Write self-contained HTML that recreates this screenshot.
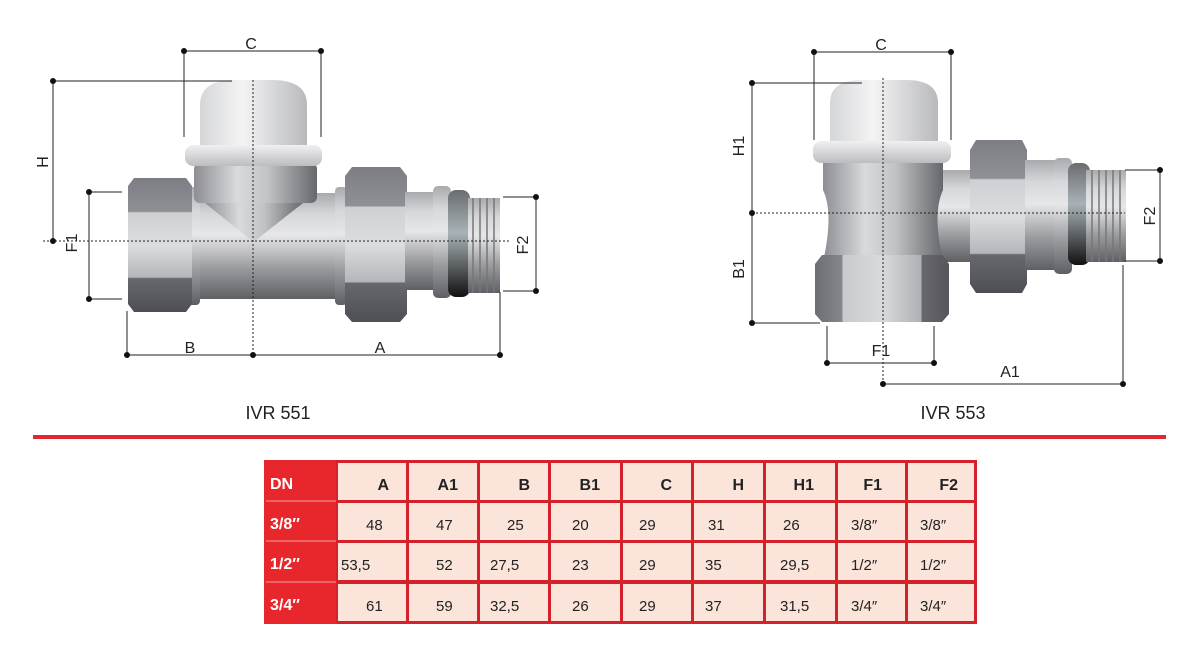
<!DOCTYPE html>
<html><head><meta charset="utf-8">
<style>
html,body{margin:0;padding:0;background:#fff;}
body{width:1200px;height:659px;position:relative;overflow:hidden;font-family:"Liberation Sans",sans-serif;}
svg{position:absolute;left:0;top:0;}
</style></head><body>
<svg width="1200" height="659" viewBox="0 0 1200 659" xmlns="http://www.w3.org/2000/svg">
<defs>
<linearGradient id="pipe" x1="0" y1="0" x2="0" y2="1">
<stop offset="0" stop-color="#a9aaae"/><stop offset="0.2" stop-color="#d6d7da"/><stop offset="0.4" stop-color="#e6e7e9"/><stop offset="0.7" stop-color="#9c9da1"/><stop offset="1" stop-color="#5e5f64"/></linearGradient>
<linearGradient id="hex" x1="0" y1="0" x2="0" y2="1">
<stop offset="0" stop-color="#7d7e83"/><stop offset="0.25" stop-color="#8f9095"/><stop offset="0.26" stop-color="#cfd0d3"/><stop offset="0.5" stop-color="#dcdde0"/><stop offset="0.74" stop-color="#b5b6ba"/><stop offset="0.75" stop-color="#67686d"/><stop offset="1" stop-color="#4e4f54"/></linearGradient>
<linearGradient id="vpipe" x1="0" y1="0" x2="1" y2="0">
<stop offset="0" stop-color="#8d8e93"/><stop offset="0.35" stop-color="#d9dadd"/><stop offset="0.6" stop-color="#c2c3c6"/><stop offset="1" stop-color="#66676c"/></linearGradient>
<linearGradient id="vhex" x1="0" y1="0" x2="1" y2="0">
<stop offset="0" stop-color="#6d6e73"/><stop offset="0.2" stop-color="#85868b"/><stop offset="0.21" stop-color="#c9cacd"/><stop offset="0.5" stop-color="#d9dadd"/><stop offset="0.79" stop-color="#b0b1b5"/><stop offset="0.8" stop-color="#67686d"/><stop offset="1" stop-color="#55565b"/></linearGradient>
<linearGradient id="dome" x1="0" y1="0" x2="1" y2="0">
<stop offset="0" stop-color="#d5d6d8"/><stop offset="0.4" stop-color="#f4f4f5"/><stop offset="1" stop-color="#b8b9bc"/></linearGradient>
<linearGradient id="ring" x1="0" y1="0" x2="0" y2="1">
<stop offset="0" stop-color="#f0f0f1"/><stop offset="1" stop-color="#bcbdc0"/></linearGradient>
<linearGradient id="dark" x1="0" y1="0" x2="0" y2="1">
<stop offset="0" stop-color="#6a6c70"/><stop offset="0.4" stop-color="#a8b2b6"/><stop offset="1" stop-color="#111"/></linearGradient>
</defs>

<!-- LEFT VALVE -->
<g>
<rect x="188" y="193" width="160" height="106" fill="url(#pipe)"/>
<rect x="188" y="187" width="12" height="118" rx="4" fill="url(#pipe)"/>
<rect x="335" y="187" width="12" height="118" rx="4" fill="url(#pipe)"/>
<path d="M134 178 H186 L192 186 V304 L186 312 H134 L128 304 V186 Z" fill="url(#hex)"/>
<rect x="194" y="163" width="123" height="40" rx="6" fill="url(#vpipe)"/>
<path d="M205 203 H303 L256 240 H251 Z" fill="url(#vpipe)"/>
<rect x="185" y="145" width="137" height="21" rx="8" fill="url(#ring)"/>
<path d="M200 145 V105 Q200 80 235 80 H272 Q307 80 307 105 V145 Z" fill="url(#dome)"/>
<path d="M352 167 H400 L407 176 V314 L400 322 H352 L345 314 V176 Z" fill="url(#hex)"/>
<rect x="405" y="192" width="32" height="98" fill="url(#pipe)"/>
<rect x="433" y="186" width="18" height="112" rx="5" fill="url(#pipe)"/>
<rect x="448" y="190" width="22" height="107" rx="8" fill="url(#dark)"/>
<rect x="468" y="198" width="32" height="95" fill="url(#pipe)"/>
<g stroke="#777" stroke-width="1.5"><line x1="473" y1="198" x2="473" y2="293"/><line x1="480" y1="198" x2="480" y2="293"/><line x1="487" y1="198" x2="487" y2="293"/><line x1="494" y1="198" x2="494" y2="293"/></g>
</g>

<!-- RIGHT VALVE -->
<g>
<path d="M918 170 H975 V262 H935 Q912 262 910 232 Q908 190 918 170 Z" fill="url(#pipe)"/>
<path d="M823 163 H943 V190 Q932 213 943 262 V270 H823 V262 Q834 213 823 190 Z" fill="url(#vpipe)"/>
<path d="M822 255 H942 L949 264 V314 L942 322 H822 L815 314 V264 Z" fill="url(#vhex)"/>
<rect x="813" y="141" width="138" height="22" rx="8" fill="url(#ring)"/>
<path d="M830 141 V103 Q830 80 862 80 H906 Q938 80 938 103 V141 Z" fill="url(#dome)"/>
<path d="M976 140 H1022 L1027 150 V284 L1022 293 H976 L970 284 V150 Z" fill="url(#hex)"/>
<rect x="1025" y="160" width="32" height="110" fill="url(#pipe)"/>
<rect x="1054" y="158" width="18" height="116" rx="5" fill="url(#pipe)"/>
<rect x="1068" y="163" width="22" height="102" rx="8" fill="url(#dark)"/>
<rect x="1086" y="170" width="40" height="92" fill="url(#pipe)"/>
<g stroke="#777" stroke-width="1.5"><line x1="1092" y1="170" x2="1092" y2="262"/><line x1="1099" y1="170" x2="1099" y2="262"/><line x1="1106" y1="170" x2="1106" y2="262"/><line x1="1113" y1="170" x2="1113" y2="262"/><line x1="1120" y1="170" x2="1120" y2="262"/></g>
</g>

<!-- DIMENSIONS -->
<g stroke="#222" stroke-width="1" fill="none">
<line x1="184" y1="51" x2="321" y2="51"/><line x1="184" y1="51" x2="184" y2="137"/><line x1="321" y1="51" x2="321" y2="137"/>
<line x1="53" y1="81" x2="232" y2="81"/><line x1="53" y1="81" x2="53" y2="241"/>
<line x1="89" y1="192" x2="122" y2="192"/><line x1="89" y1="299" x2="122" y2="299"/><line x1="89" y1="192" x2="89" y2="299"/>
<line x1="503" y1="197" x2="536" y2="197"/><line x1="503" y1="291" x2="536" y2="291"/><line x1="536" y1="197" x2="536" y2="291"/>
<line x1="127" y1="355" x2="500" y2="355"/><line x1="127" y1="311" x2="127" y2="355"/><line x1="500" y1="292" x2="500" y2="355"/>
<line x1="814" y1="52" x2="951" y2="52"/><line x1="814" y1="52" x2="814" y2="140"/><line x1="951" y1="52" x2="951" y2="140"/>
<line x1="752" y1="83" x2="862" y2="83"/><line x1="752" y1="83" x2="752" y2="323"/><line x1="752" y1="323" x2="820" y2="323"/>
<line x1="1125" y1="170" x2="1160" y2="170"/><line x1="1125" y1="261" x2="1160" y2="261"/><line x1="1160" y1="170" x2="1160" y2="261"/>
<line x1="827" y1="363" x2="934" y2="363"/><line x1="827" y1="326" x2="827" y2="363"/><line x1="934" y1="326" x2="934" y2="363"/>
<line x1="883" y1="384" x2="1123" y2="384"/><line x1="1123" y1="265" x2="1123" y2="384"/>
</g>
<g stroke="#222" stroke-width="1" stroke-dasharray="2,2" fill="none">
<line x1="43" y1="241" x2="510" y2="241"/><line x1="253" y1="80" x2="253" y2="355"/>
<line x1="752" y1="213" x2="1125" y2="213"/><line x1="883" y1="78" x2="883" y2="384"/>
</g>
<g fill="#111">
<circle cx="184" cy="51" r="3"/><circle cx="321" cy="51" r="3"/><circle cx="53" cy="81" r="3"/><circle cx="53" cy="241" r="3"/>
<circle cx="89" cy="192" r="3"/><circle cx="89" cy="299" r="3"/><circle cx="536" cy="197" r="3"/><circle cx="536" cy="291" r="3"/>
<circle cx="127" cy="355" r="3"/><circle cx="253" cy="355" r="3"/><circle cx="500" cy="355" r="3"/>
<circle cx="814" cy="52" r="3"/><circle cx="951" cy="52" r="3"/><circle cx="752" cy="83" r="3"/><circle cx="752" cy="213" r="3"/><circle cx="752" cy="323" r="3"/>
<circle cx="1160" cy="170" r="3"/><circle cx="1160" cy="261" r="3"/><circle cx="827" cy="363" r="3"/><circle cx="934" cy="363" r="3"/>
<circle cx="883" cy="384" r="3"/><circle cx="1123" cy="384" r="3"/>
</g>
<g font-family="Liberation Sans, sans-serif" font-size="16" fill="#222" text-anchor="middle">
<text x="251" y="49">C</text>
<text x="881" y="50">C</text>
<text x="190" y="353">B</text>
<text x="380" y="353">A</text>
<text x="881" y="356">F1</text>
<text x="1010" y="377">A1</text>
<text transform="translate(48,162) rotate(-90)">H</text>
<text transform="translate(77,243) rotate(-90)">F1</text>
<text transform="translate(528,245) rotate(-90)">F2</text>
<text transform="translate(744,146) rotate(-90)">H1</text>
<text transform="translate(744,269) rotate(-90)">B1</text>
<text transform="translate(1155,216) rotate(-90)">F2</text>
<text x="278" y="419" font-size="18">IVR 551</text>
<text x="953" y="419" font-size="18">IVR 553</text>
</g>
<rect x="33" y="435" width="1133" height="4" fill="#e2262e"/>

<!-- TABLE -->
<g>
<rect x="264" y="460" width="713" height="164" fill="#d3222b"/>
<rect x="264" y="460" width="72" height="164" fill="#e8272d"/>
<g fill="#fbe4da">
<rect x="338" y="463" width="68" height="37"/><rect x="409" y="463" width="68" height="37"/><rect x="480" y="463" width="68" height="37"/><rect x="551" y="463" width="69" height="37"/><rect x="623" y="463" width="68" height="37"/><rect x="694" y="463" width="69" height="37"/><rect x="766" y="463" width="69" height="37"/><rect x="838" y="463" width="67" height="37"/><rect x="908" y="463" width="66" height="37"/>
<rect x="338" y="503" width="68" height="37"/><rect x="409" y="503" width="68" height="37"/><rect x="480" y="503" width="68" height="37"/><rect x="551" y="503" width="69" height="37"/><rect x="623" y="503" width="68" height="37"/><rect x="694" y="503" width="69" height="37"/><rect x="766" y="503" width="69" height="37"/><rect x="838" y="503" width="67" height="37"/><rect x="908" y="503" width="66" height="37"/>
<rect x="338" y="543" width="68" height="37"/><rect x="409" y="543" width="68" height="37"/><rect x="480" y="543" width="68" height="37"/><rect x="551" y="543" width="69" height="37"/><rect x="623" y="543" width="68" height="37"/><rect x="694" y="543" width="69" height="37"/><rect x="766" y="543" width="69" height="37"/><rect x="838" y="543" width="67" height="37"/><rect x="908" y="543" width="66" height="37"/>
<rect x="338" y="584" width="68" height="37"/><rect x="409" y="584" width="68" height="37"/><rect x="480" y="584" width="68" height="37"/><rect x="551" y="584" width="69" height="37"/><rect x="623" y="584" width="68" height="37"/><rect x="694" y="584" width="69" height="37"/><rect x="766" y="584" width="69" height="37"/><rect x="838" y="584" width="67" height="37"/><rect x="908" y="584" width="66" height="37"/>
</g>
<g stroke="#f4a0a0" stroke-width="1"><line x1="266" y1="501" x2="336" y2="501"/><line x1="266" y1="541" x2="336" y2="541"/><line x1="266" y1="582" x2="336" y2="582"/></g>
<g font-family="Liberation Sans, sans-serif" font-size="16" font-weight="bold" fill="#fff">
<text x="270" y="489">DN</text><text x="270" y="529">3/8″</text><text x="270" y="569">1/2″</text><text x="270" y="610">3/4″</text>
</g>
<g font-family="Liberation Sans, sans-serif" font-size="16" font-weight="bold" fill="#222" text-anchor="end">
<text x="389" y="490">A</text><text x="458" y="490">A1</text><text x="530" y="490">B</text><text x="600" y="490">B1</text><text x="672" y="490">C</text><text x="744" y="490">H</text><text x="814" y="490">H1</text><text x="882" y="490">F1</text><text x="958" y="490">F2</text>
</g>
<g font-family="Liberation Sans Narrow, Liberation Sans, sans-serif" font-size="15" fill="#222">
<text x="366" y="530">48</text><text x="436" y="530">47</text><text x="507" y="530">25</text><text x="572" y="530">20</text><text x="639" y="530">29</text><text x="708" y="530">31</text><text x="783" y="530">26</text><text x="851" y="530">3/8″</text><text x="920" y="530">3/8″</text>
<text x="341" y="570">53,5</text><text x="436" y="570">52</text><text x="490" y="570">27,5</text><text x="572" y="570">23</text><text x="639" y="570">29</text><text x="705" y="570">35</text><text x="780" y="570">29,5</text><text x="851" y="570">1/2″</text><text x="920" y="570">1/2″</text>
<text x="366" y="611">61</text><text x="436" y="611">59</text><text x="490" y="611">32,5</text><text x="572" y="611">26</text><text x="639" y="611">29</text><text x="705" y="611">37</text><text x="780" y="611">31,5</text><text x="851" y="611">3/4″</text><text x="920" y="611">3/4″</text>
</g>
</g>
</svg>
</body></html>
